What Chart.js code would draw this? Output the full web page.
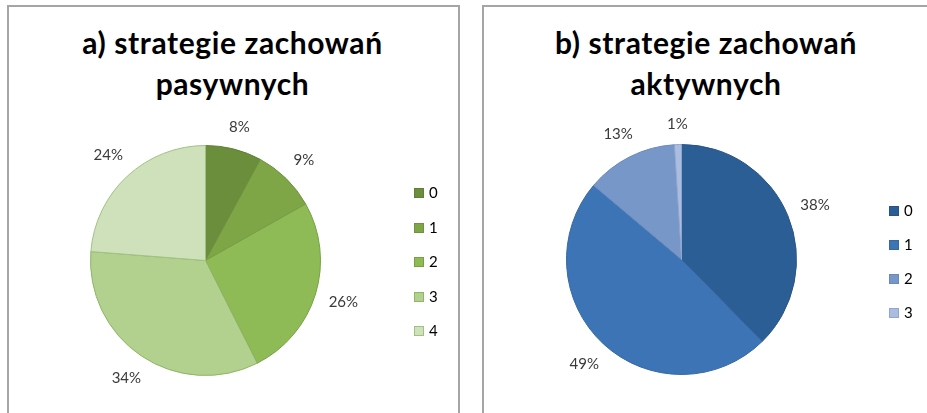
<!DOCTYPE html>
<html>
<head>
<meta charset="utf-8">
<script src="https://cdn.jsdelivr.net/npm/chart.js@4.4.1/dist/chart.umd.min.js"></script>
<style>
  body { margin: 0; background: #fff; width: 927px; height: 413px; overflow: hidden; position: relative; font-family: Lato, "Open Sans", sans-serif; }
  .panel { position: absolute; border: 2px solid #a5a5a5; box-sizing: border-box; }
  .title { position: absolute; text-align: center; font-weight: bold; font-size: 30px; letter-spacing: 0.6px; line-height: 41px; color: #000; }
  .legend { position: absolute; font-size: 15px; color: #000; }
  .legend div { position: absolute; white-space: nowrap; height: 15px; line-height: 15px; }
  .legend span { display: inline-block; width: 10px; height: 10px; margin-right: 5px; vertical-align: 0px; box-sizing: border-box; }
  canvas { position: absolute; top: 0; }
</style>
</head>
<body>
<div class="panel" style="left:7px; top:5px; width:453px; height:430px;"></div>
<div class="panel" style="left:482px; top:5px; width:460px; height:430px;"></div>

<div class="title" style="left:7px; top:22px; width:451px;">a) strategie zachowań<br>pasywnych</div>
<div class="title" style="left:482px; top:22px; width:448px;">b) strategie zachowań<br>aktywnych</div>

<canvas id="chartA" width="470" height="413" style="left:0;"></canvas>
<canvas id="chartB" width="457" height="413" style="left:470px;"></canvas>

<div class="legend" id="legendA" style="left:414px; top:185px;"></div>
<div class="legend" id="legendB" style="left:889px; top:203px;"></div>

<script>
// dane
const kategorieA = ['0', '1', '2', '3', '4'];
const wartosciA = [8, 9, 26, 34, 24];
const kolorySA = ['#6b8e3c', '#7ea546', '#8fbb57', '#b2d08e', '#cee1ba'];
const ramkiA = ['#5f7f35', '#6f9340', '#76a043', '#8fb566', '#9fc283'];

const kategorieB = ['0', '1', '2', '3'];
const wartosciB = [38, 49, 13, 1];
const koloryB = ['#2c5e96', '#3d74b5', '#7797c9', '#aabde0'];
const ramkiB = ['#275488', '#3568a3', '#6a89bb', '#8fa6cf'];

// etykiety procentowe na zewnątrz wycinków
const etykietyPlugin = {
    id: 'etykiety',
    afterDatasetsDraw(chart) {
        const ctx = chart.ctx;
        const meta = chart.getDatasetMeta(0);
        const dane = chart.data.datasets[0].data;
        ctx.save();
        ctx.font = '15px Lato, "Open Sans", sans-serif';
        ctx.fillStyle = '#3a3a3a';
        ctx.textAlign = 'center';
        ctx.textBaseline = 'middle';
        meta.data.forEach((arc, i) => {
            const p = arc.getProps(['x', 'y', 'startAngle', 'endAngle', 'outerRadius'], true);
            const kat = (p.startAngle + p.endAngle) / 2;
            const tekst = dane[i] + '%';
            const w = ctx.measureText(tekst).width;
            const h = 14;
            const cos = Math.cos(kat), sin = Math.sin(kat);
            const ext = Math.abs(cos) * w / 2 + Math.abs(sin) * h / 2;
            const r = p.outerRadius + 13 + ext;
            ctx.fillText(tekst, p.x + cos * r, p.y + sin * r);
        });
        ctx.restore();
    }
};

function rysujKolo(canvas, kategorie, wartosci, kolory, ramki, padding) {
    const ctx = canvas.getContext('2d');
    new Chart(ctx, {
        type: 'pie',
        data: {
            labels: kategorie,
            datasets: [{
                data: wartosci,
                backgroundColor: kolory,
                borderColor: ramki,
                borderWidth: 1
            }]
        },
        options: {
            responsive: false,
            animation: false,
            layout: { padding: padding },
            plugins: {
                legend: { display: false },
                tooltip: { enabled: false }
            }
        },
        plugins: [etykietyPlugin]
    });
}

function rysujLegende(el, kategorie, kolory, ramki, krok) {
    el.innerHTML = '';
    kategorie.forEach((k, i) => {
        el.innerHTML += `<div style="top:${i * krok}px"><span style="background:${kolory[i]};border:1px solid ${ramki[i]}"></span>${k}</div>`;
    });
}

rysujKolo(document.getElementById('chartA'), kategorieA, wartosciA, kolorySA, ramkiA,
    { left: 90, top: 145, right: 149, bottom: 37 });
rysujKolo(document.getElementById('chartB'), kategorieB, wartosciB, koloryB, ramkiB,
    { left: 96, top: 144, right: 130, bottom: 38 });

rysujLegende(document.getElementById('legendA'), kategorieA, kolorySA, ramkiA, 34.5);
rysujLegende(document.getElementById('legendB'), kategorieB, koloryB, ramkiB, 34);
</script>
</body>
</html>
